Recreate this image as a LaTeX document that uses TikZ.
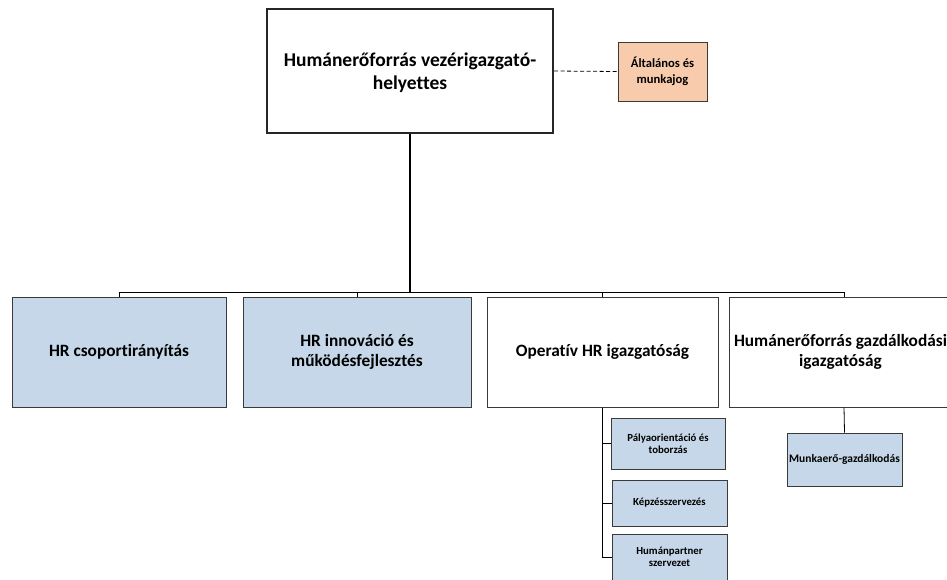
\documentclass[tikz,border=0pt]{standalone}
\usepackage{fontspec}
\setmainfont{Carlito}[Ligatures={NoCommon}]
\usetikzlibrary{shadows}
\definecolor{boxblue}{HTML}{C5D7E8}
\definecolor{boxorange}{HTML}{F8CBAD}
\definecolor{edge}{HTML}{3A3A3A}
\tikzset{
  orgbox/.style={draw=edge, line width=1pt, align=center, inner sep=1pt,
    font=\bfseries, drop shadow={shadow xshift=1pt, shadow yshift=-1pt, fill=black!25, opacity=1}},
  bluebox/.style={orgbox, fill=boxblue},
  whitebox/.style={orgbox, fill=white},
  bigtext/.style={font=\bfseries\fontsize{17.3}{19.5}\selectfont},
  smalltext/.style={font=\bfseries\fontsize{10.8}{11.5}\selectfont},
  conn/.style={draw=black, line width=0.8pt},
}
\begin{document}
\begin{tikzpicture}[x=1pt,y=-1pt]
\useasboundingbox (0,0) rectangle (947,579);
\begin{scope}
\clip (0,0) rectangle (947,579);
\node[whitebox, line width=2pt, draw=black!85, minimum width=286pt, minimum height=124pt] (top) at (410,71) {};
\node[align=center, font=\bfseries\fontsize{19.5}{23.3}\selectfont] (toptext) at (410,73) {Humánerőforrás vezérigazgató-\\helyettes};
\node[orgbox, fill=boxorange, minimum width=89pt, minimum height=59pt, font=\bfseries\fontsize{12.6}{15.7}\selectfont] (or) at (662.5,71.5) {Általános és\\munkajog};

\node[bluebox, bigtext, minimum width=214pt, minimum height=110pt] (b1) at (119,352) {HR csoportirányítás};
\node[bluebox, bigtext, minimum width=228pt, minimum height=110pt] (b2) at (357,352) {HR innováció és\\működésfejlesztés};
\node[whitebox, bigtext, minimum width=231pt, minimum height=110pt] (b3) at (602.5,352) {Operatív HR igazgatóság};
\node[whitebox, minimum width=230pt, minimum height=110pt] (b4) at (844,352) {};
\node[align=center, bigtext, inner sep=0pt] (b4text) at (840.5,352) {Humánerőforrás gazdálkodási\\igazgatóság};

\node[bluebox, smalltext, minimum width=114pt, minimum height=51pt] (s1) at (668,443.5) {Pályaorientáció és\\toborzás};
\node[bluebox, smalltext, minimum width=115pt, minimum height=46pt] (s2) at (669.5,503) {Képzésszervezés};
\node[bluebox, smalltext, minimum width=115pt, minimum height=46pt] (s3) at (669.5,557) {Humánpartner\\szervezet};
\node[bluebox, minimum width=115pt, minimum height=53pt, font=\bfseries\fontsize{11.5}{13}\selectfont] (m) at (844.5,459.5) {Munkaerő-gazdálkodás};
\end{scope}

\coordinate (bus) at (0,292.7);
\draw[conn, line width=1.6pt] (top.south) -- (top.south |- bus);
\draw[conn] (b1.north) -- (b1.north |- bus) -- (b4.north |- bus) -- (b4.north);
\draw[conn] (b2.north) -- (b2.north |- bus);
\draw[conn] (b3.north) -- (b3.north |- bus);
\draw[conn, dash pattern=on 4pt off 2.5pt] (top.east) -- (or.west);
\draw[conn] (b3.south) |- (s3.west);
\draw[conn] (b3.south |- s1.west) -- (s1.west);
\draw[conn] (b3.south |- s2.west) -- (s2.west);
\draw[conn] (b4.south) -- (m.north);
\end{tikzpicture}
\end{document}
